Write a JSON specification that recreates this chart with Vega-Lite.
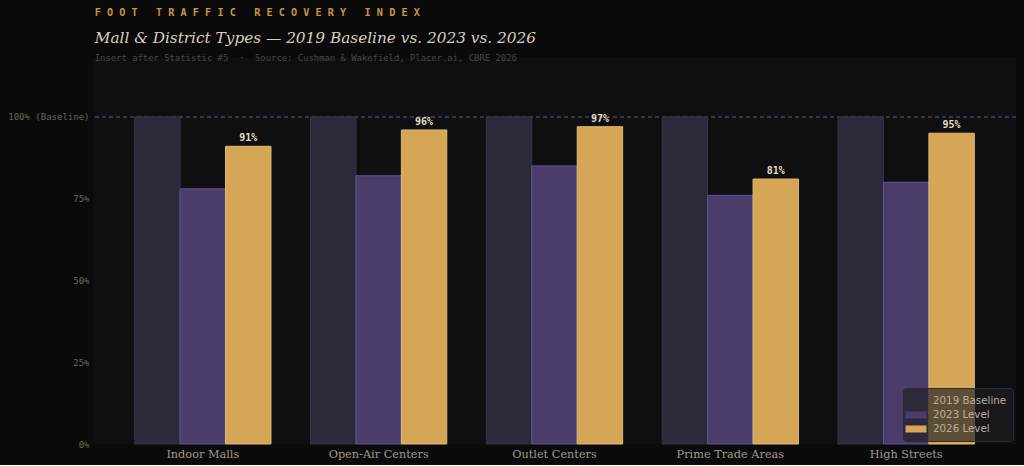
{
  "$schema": "https://vega.github.io/schema/vega-lite/v6.json",
  "background": "#0a0a0b",
  "autosize": {"type": "pad"},
  "padding": {"left": 7, "top": 7, "right": 8, "bottom": 5},
  "title": {
    "text": "F O O T \u00a0 T R A F F I C \u00a0 R E C O V E R Y \u00a0 I N D E X",
    "anchor": "start",
    "font": "DejaVu Sans Mono",
    "fontSize": 10.2,
    "fontWeight": "bold",
    "color": "#c8963e",
    "offset": 13,
    "dx": 87
  },
  "resolve": {"scale": {"color": "independent"}, "legend": {"color": "independent"}},
  "config": {
    "view": {"fill": "#0f0f12", "stroke": null},
    "axisX": {
      "domain": false, "ticks": false, "grid": false,
      "labelFont": "DejaVu Serif", "labelFontSize": 11.3, "labelColor": "#a09a88",
      "labelAngle": 0, "labelPadding": 4, "title": null
    },
    "axisY": {
      "domain": false, "ticks": false,
      "labelFont": "DejaVu Sans Mono", "labelFontSize": 9, "labelColor": "#6b665a",
      "gridColor": "#221f2b", "gridWidth": 1, "labelPadding": 4, "title": null
    }
  },
  "datasets": {
    "bars": [
      {"type": "Indoor Malls", "series": "2019 Baseline", "value": 100},
      {"type": "Indoor Malls", "series": "2023 Level", "value": 78},
      {"type": "Indoor Malls", "series": "2026 Level", "value": 91},
      {"type": "Open-Air Centers", "series": "2019 Baseline", "value": 100},
      {"type": "Open-Air Centers", "series": "2023 Level", "value": 82},
      {"type": "Open-Air Centers", "series": "2026 Level", "value": 96},
      {"type": "Outlet Centers", "series": "2019 Baseline", "value": 100},
      {"type": "Outlet Centers", "series": "2023 Level", "value": 85},
      {"type": "Outlet Centers", "series": "2026 Level", "value": 97},
      {"type": "Prime Trade Areas", "series": "2019 Baseline", "value": 100},
      {"type": "Prime Trade Areas", "series": "2023 Level", "value": 76},
      {"type": "Prime Trade Areas", "series": "2026 Level", "value": 81},
      {"type": "High Streets", "series": "2019 Baseline", "value": 100},
      {"type": "High Streets", "series": "2023 Level", "value": 80},
      {"type": "High Streets", "series": "2026 Level", "value": 95}
    ]
  },
  "vconcat": [
    {
      "width": 923,
      "height": 386,
      "title": {
        "text": "Mall & District Types — 2019 Baseline vs. 2023 vs. 2026",
        "subtitle": "Insert after Statistic #5 \u00a0·\u00a0 Source: Cushman & Wakefield, Placer.ai, CBRE 2026",
        "anchor": "start",
        "dx": 87,
        "font": "DejaVu Serif", "fontSize": 15.3, "fontStyle": "italic", "fontWeight": "normal",
        "color": "#d8cfbd",
        "subtitleFont": "DejaVu Sans Mono", "subtitleFontSize": 8.9, "subtitleColor": "#4a4740",
        "subtitlePadding": 8,
        "offset": -5
      },
      "data": {"name": "bars"},
      "layer": [
        {
          "mark": {"type": "rule", "color": "#3b3552", "strokeDash": [4, 3], "strokeWidth": 1},
          "encoding": {"y": {"datum": 100}}
        },
        {
          "mark": {"type": "bar", "strokeWidth": 1},
          "encoding": {
            "x": {
              "field": "type", "type": "nominal",
              "sort": ["Indoor Malls", "Open-Air Centers", "Outlet Centers", "Prime Trade Areas", "High Streets"],
              "scale": {"paddingInner": 0.225, "paddingOuter": 0.237}
            },
            "xOffset": {"field": "series", "type": "nominal", "scale": {"domain": ["2019 Baseline", "2023 Level", "2026 Level"], "paddingInner": 0, "paddingOuter": 0}},
            "y": {
              "field": "value", "type": "quantitative",
              "scale": {"domain": [0, 118], "nice": false},
              "axis": {"values": [0, 25, 50, 75, 100], "labelExpr": "datum.value == 100 ? '100% (Baseline)' : datum.value + '%'"}
            },
            "color": {
              "field": "series", "type": "nominal",
              "scale": {"domain": ["2019 Baseline", "2023 Level", "2026 Level"], "range": ["#2b2a3b", "#4a3d6a", "#d4a656"]},
              "legend": {
                "orient": "bottom-right", "offset": 3, "title": null,
                "fillColor": "rgba(30,29,35,0.65)", "strokeColor": "#2c2b33", "cornerRadius": 3,
                "padding": 6, "labelFont": "DejaVu Sans", "labelFontSize": 10.3, "labelColor": "#b8b09f",
                "symbolType": "M-1.5,-0.5L1.5,-0.5L1.5,0.5L-1.5,0.5Z", "symbolSize": 196,
                "symbolStrokeWidth": 0, "symbolOpacity": 1, "rowPadding": 1, "labelOffset": 10
              }
            },
            "stroke": {
              "condition": [
                {"test": "datum.series == '2019 Baseline'", "value": "#363546"},
                {"test": "datum.series == '2023 Level'", "value": "#65559a"}
              ],
              "value": "#e2bb72"
            }
          }
        },
        {
          "transform": [
            {"filter": "datum.series == '2026 Level'"},
            {"calculate": "datum.value + '%'", "as": "label"}
          ],
          "mark": {"type": "text", "baseline": "bottom", "dy": -3, "font": "DejaVu Sans Mono", "fontSize": 10, "fontWeight": "bold", "color": "#e6dcc4"},
          "encoding": {
            "x": {
              "field": "type", "type": "nominal",
              "sort": ["Indoor Malls", "Open-Air Centers", "Outlet Centers", "Prime Trade Areas", "High Streets"]
            },
            "xOffset": {"field": "series", "type": "nominal"},
            "y": {"field": "value", "type": "quantitative"},
            "text": {"field": "label", "type": "nominal"}
          }
        }
      ]
    }
  ]
}
